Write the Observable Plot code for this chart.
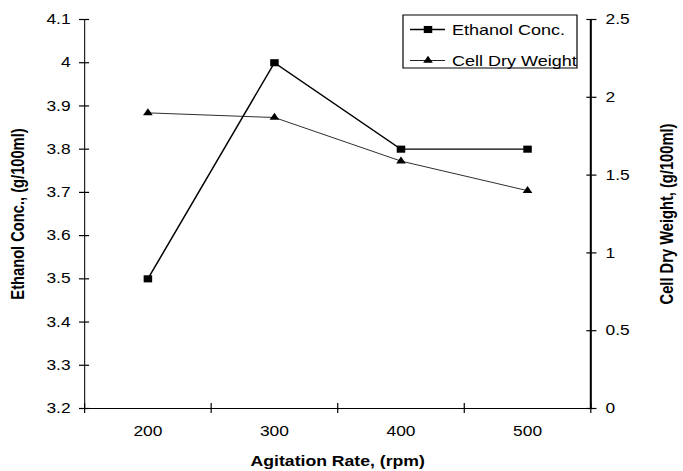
<!DOCTYPE html>
<html>
<head>
<meta charset="utf-8">
<script src="https://cdn.jsdelivr.net/npm/d3@7"></script>
<script src="https://cdn.jsdelivr.net/npm/@observablehq/plot@0.6"></script>
<style>
  html, body { margin: 0; padding: 0; background: #fff; }
  #chart svg { display: block; }
</style>
</head>
<body>
<div id="chart"></div>
<script>
// ---- data ----
const agitation = [200, 300, 400, 500];
const ethanol = [3.5, 4.0, 3.8, 3.8];
const cellDryWeight = [1.9, 1.87, 1.59, 1.4];

const xDomain = [150, 550];
const xBoundaryTicks = [150, 250, 350, 450, 550];
const leftDomain = [3.2, 4.1];
const leftTicks = [3.2, 3.3, 3.4, 3.5, 3.6, 3.7, 3.8, 3.9, 4.0, 4.1];
const rightDomain = [0, 2.5];
const rightTicks = [0, 0.5, 1, 1.5, 2, 2.5];

const seriesNames = ["Ethanol Conc.", "Cell Dry Weight"];
const xTitle = "Agitation Rate, (rpm)";
const yLeftTitle = "Ethanol Conc., (g/100ml)";
const yRightTitle = "Cell Dry Weight, (g/100ml)";

// map the right-axis values onto the left scale
const toLeft = v => leftDomain[0] + (v - rightDomain[0]) * (leftDomain[1] - leftDomain[0]) / (rightDomain[1] - rightDomain[0]);

const ethData = agitation.map((x, i) => ({x, y: ethanol[i]}));
const cdwData = agitation.map((x, i) => ({x, y: cellDryWeight[i]}));

// the reference is horizontally stretched: draw narrower then stretch
const OUT_W = 683, OUT_H = 471;
const S = 1.2;
const W = Math.round(OUT_W / S);
const sx = OUT_W / W;

const fmt1 = d => String(+(+d).toFixed(1));

const plot = Plot.plot({
  width: W,
  height: OUT_H,
  marginLeft: 70,
  marginRight: W - 491.7,
  marginTop: 19,
  marginBottom: 63,
  style: {fontFamily: "'Liberation Sans', Arial, sans-serif", fontSize: "14px", background: "white", color: "black"},
  x: {type: "linear", domain: xDomain},
  y: {type: "linear", domain: leftDomain},
  marks: [
    // axis lines
    Plot.ruleX([xDomain[0]], {stroke: "#222", strokeWidth: 1}),
    Plot.ruleX([xDomain[1]], {stroke: "black", strokeWidth: 1.7}),
    Plot.ruleY([leftDomain[0]], {stroke: "black", strokeWidth: 1}),
    // x axis: crossing ticks at boundaries, labels at categories
    Plot.axisX({ticks: xBoundaryTicks, tickSize: 10, dy: -5, tickFormat: () => "", label: null, strokeWidth: 1}),
    Plot.axisX({ticks: agitation, tickSize: 0, tickPadding: 17, tickFormat: d => String(d), label: null, fontSize: 14.5}),
    // left axis
    Plot.axisY({anchor: "left", ticks: leftTicks, tickSize: 8.4, dx: 4.2, tickPadding: 7.5, tickFormat: fmt1, label: null, fontSize: 14.5, strokeWidth: 1.2}),
    // right axis
    Plot.axisY({anchor: "right", ticks: rightTicks.map(toLeft), tickSize: 8.4, dx: -4.2, tickPadding: 8.1,
      tickFormat: (d, i) => String(rightTicks[i]), label: null, fontSize: 14.5, strokeWidth: 1.2}),
    // series
    Plot.line(ethData, {x: "x", y: "y", stroke: "black", strokeWidth: 1.3}),
    Plot.dot(ethData, {x: "x", y: "y", symbol: "square", r: 4, fill: "black", stroke: "none"}),
    Plot.line(cdwData, {x: "x", y: d => toLeft(d.y), stroke: "#111", strokeWidth: 0.8}),
    Plot.dot(cdwData, {x: "x", y: d => toLeft(d.y), symbol: "triangle", r: 3, fill: "black", stroke: "none"}),
    // titles
    Plot.text([xTitle], {frameAnchor: "bottom", dy: 53, lineAnchor: "middle", fontWeight: "bold", fontSize: 14.7}),
    Plot.text([yLeftTitle], {frameAnchor: "left", dx: -55, rotate: -90, lineAnchor: "middle", textAnchor: "middle", fontWeight: "bold", fontSize: 14.7}),
    Plot.text([yRightTitle], {frameAnchor: "right", dx: 64, rotate: -90, lineAnchor: "middle", textAnchor: "middle", fontWeight: "bold", fontSize: 14.7})
  ]
});

// legend (internal coordinates)
const svg = d3.select(plot);
const lg = svg.append("g")
  .attr("font-family", "'Liberation Sans', Arial, sans-serif")
  .attr("font-size", 15)
  .attr("text-anchor", "start");
const bx = 403 / sx, bx2 = 577 / sx;
lg.append("rect").attr("x", bx).attr("y", 15).attr("width", bx2 - bx).attr("height", 53)
  .attr("fill", "white").attr("stroke", "black").attr("stroke-width", 1);
const rows = [
  {name: seriesNames[0], y: 29.5, sym: d3.symbolSquare, r: 4, sw: 1.3},
  {name: seriesNames[1], y: 60.5, sym: d3.symbolTriangle, r: 3, sw: 0.8}
];
rows.forEach(row => {
  lg.append("line").attr("x1", 410 / sx).attr("x2", 445 / sx).attr("y1", row.y).attr("y2", row.y)
    .attr("stroke", "black").attr("stroke-width", row.sw);
  lg.append("path").attr("d", d3.symbol(row.sym, Math.PI * row.r * row.r)())
    .attr("transform", `translate(${428 / sx},${row.y})`).attr("fill", "black");
  lg.append("text").attr("x", 452 / sx).attr("y", row.y).attr("dy", "0.35em")
    .attr("text-anchor", "start").attr("fill", "black").text(row.name);
});

plot.setAttribute("viewBox", `0 0 ${W} ${OUT_H}`);
plot.setAttribute("preserveAspectRatio", "none");
plot.setAttribute("width", OUT_W);
plot.setAttribute("height", OUT_H);
plot.style.width = OUT_W + "px";
plot.style.height = OUT_H + "px";
plot.style.maxWidth = "none";
document.getElementById("chart").appendChild(plot);
</script>
</body>
</html>
